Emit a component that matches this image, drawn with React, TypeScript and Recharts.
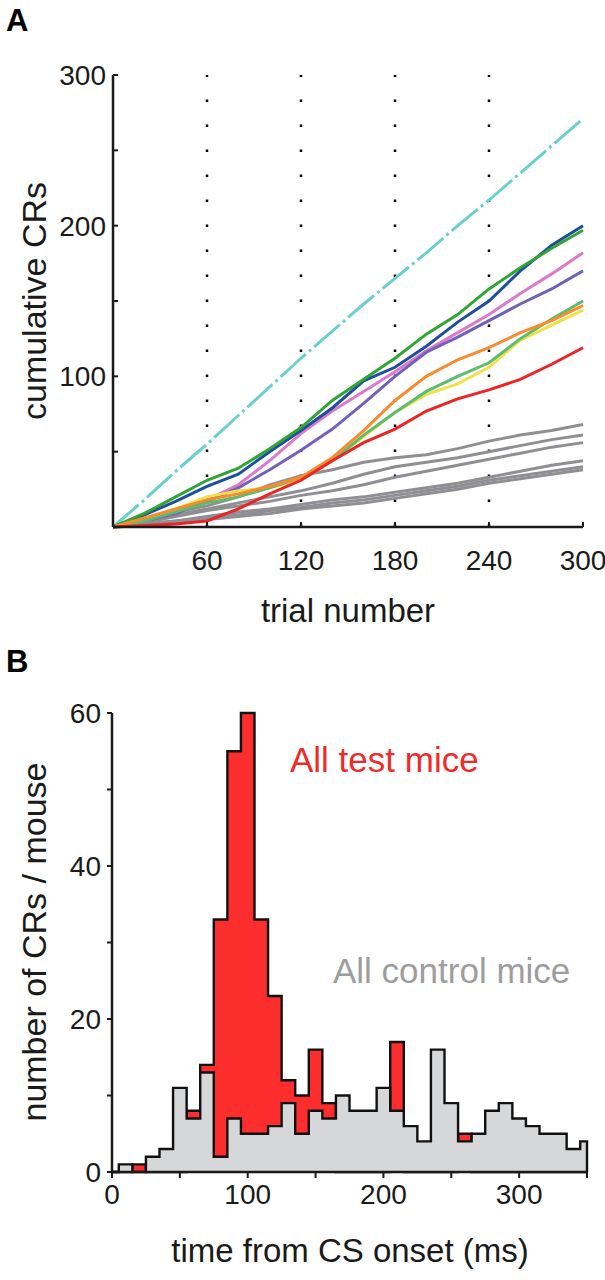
import React from 'react';
import { LineChart, Line, AreaChart, Area, XAxis, YAxis, ReferenceLine } from 'recharts';

// panel A: cumulative CRs, sampled every 20 trials
const TRIALS = [0, 20, 40, 60, 80, 100, 120, 140, 160, 180, 200, 220, 240, 260, 280, 300];
const CYAN = [0, 18, 37, 55, 74, 93, 112, 130, 148, 165, 182, 200, 217, 235, 253, 271];
const BLUE = [0, 8, 17, 27, 35, 50, 64, 79, 97, 106, 120, 136, 150, 170, 187, 200];
const GREEN = [0, 9, 20, 31, 39, 52, 66, 84, 98, 112, 128, 141, 158, 172, 185, 197];
const PINK = [0, 5, 10, 18, 28, 44, 62, 77, 90, 103, 117, 129, 141, 155, 168, 182];
const PURPLE = [0, 4, 9, 17, 26, 38, 51, 65, 82, 100, 116, 126, 137, 148, 158, 170];
const LTGREEN = [0, 4, 10, 16, 20, 26, 33, 44, 61, 76, 90, 100, 109, 125, 138, 150];
const ORANGE = [0, 6, 12, 18, 22, 27, 33, 46, 64, 84, 100, 111, 119, 129, 137, 147];
const YELLOW = [0, 5, 12, 20, 24, 26, 31, 44, 60, 76, 88, 95, 106, 124, 134, 144];
const RED = [0, 1, 2, 4, 12, 22, 31, 44, 56, 65, 77, 85, 91, 98, 108, 119];
const GREY1 = [0, 5, 10, 14, 20, 28, 34, 38, 43, 46, 48, 52, 57, 61, 64, 68];
const GREY2 = [0, 4, 8, 12, 16, 20, 24, 29, 35, 40, 43, 46, 50, 54, 58, 61];
const GREY3 = [0, 3, 7, 11, 14, 17, 21, 24, 28, 33, 37, 41, 45, 49, 53, 56];
const GREY4 = [0, 2, 4, 7, 10, 12, 15, 18, 20, 23, 26, 29, 33, 37, 41, 44];
const GREY5 = [0, 2, 4, 6, 8, 11, 13, 16, 18, 21, 24, 27, 31, 34, 37, 40];
const GREY6 = [0, 1, 3, 5, 7, 9, 12, 14, 16, 19, 22, 25, 29, 32, 35, 38];

const TRIAL_TICKS = [0, 60, 120, 180, 240, 300];
const DOTTED_X = [60, 120, 180, 240];
const CR_TICKS = [0, 50, 100, 150, 200, 250, 300];

// panel B: 10 ms bins
const BIN_CENTERS = [10, 20, 30, 40, 50, 60, 70, 80, 90, 100, 110, 120, 130, 140, 150, 160, 170, 180,
  190, 200, 210, 220, 230, 240, 250, 260, 270, 280, 290, 300, 310, 320, 330, 340, 350];
const CONTROL = [1, 0, 2, 3, 11, 7, 13, 2, 7, 5, 5, 6, 9, 5, 8, 7, 10, 8,
  8, 11, 8, 6, 4, 16, 9, 4, 5, 8, 9, 7, 6, 5, 5, 3, 4];
const TEST = [0, 1, 0, 0, 0, 8, 14, 33, 55, 60, 33, 23, 12, 10, 16, 9, 0, 0,
  0, 0, 17, 0, 0, 0, 0, 5, 0, 0, 0, 0, 0, 0, 0, 0, 0];
const TIME_TICKS = [0, 50, 100, 150, 200, 250, 300, 350];
const COUNT_TICKS = [0, 10, 20, 30, 40, 50, 60];

const FONT = "'Liberation Sans', Arial, Helvetica, sans-serif";
const INK = '#1a1a1a';

const SERIES = [
  { key: 'g1', values: GREY1, color: '#8f8f93' },
  { key: 'g2', values: GREY2, color: '#8f8f93' },
  { key: 'g3', values: GREY3, color: '#8f8f93' },
  { key: 'g4', values: GREY4, color: '#8f8f93' },
  { key: 'g5', values: GREY5, color: '#8f8f93' },
  { key: 'g6', values: GREY6, color: '#8f8f93' },
  { key: 'cyan', values: CYAN, color: '#6acfd0', dash: '34 4 3 4' },
  { key: 'pink', values: PINK, color: '#dc79c8' },
  { key: 'purple', values: PURPLE, color: '#6f62bd' },
  { key: 'blue', values: BLUE, color: '#1f4e9e' },
  { key: 'green', values: GREEN, color: '#2fa532' },
  { key: 'yellow', values: YELLOW, color: '#efe14a' },
  { key: 'ltgreen', values: LTGREEN, color: '#5dbd6e' },
  { key: 'orange', values: ORANGE, color: '#fb8a2c' },
  { key: 'red', values: RED, color: '#ec2424' },
];

const lineData = TRIALS.map((t, i) => {
  const row: Record<string, number> = { trial: t };
  SERIES.forEach((s) => { row[s.key] = s.values[i]; });
  return row;
});

// step rows at bin edges (clipped to 0..350)
const histData = [
  { edge: 0, control: 0, test: 0 },
  ...BIN_CENTERS.map((c, i) => ({ edge: c - 5, control: CONTROL[i], test: TEST[i] })),
  { edge: 350, control: 0, test: 0 },
];

// inward ticks for panel A
const InTickY = (props: any) => {
  const { x, y, payload } = props;
  const v = payload.value;
  return (
    <g>
      <line x1={x} x2={x + 5} y1={y} y2={y} stroke={INK} strokeWidth={2} />
      {v > 0 && v % 100 === 0 && (
        <text x={x - 7} y={y} dy={10} textAnchor="end" fontSize={28} fontFamily={FONT} fill={INK}>{v}</text>
      )}
    </g>
  );
};

const InTickX = (props: any) => {
  const { x, y, payload } = props;
  const v = payload.value;
  return (
    <g>
      <line x1={x} x2={x} y1={y} y2={y - 5} stroke={INK} strokeWidth={2} />
      {v > 0 && (
        <text x={x} y={y} dy={43} textAnchor="middle" fontSize={28} fontFamily={FONT} fill={INK}>{v}</text>
      )}
    </g>
  );
};

export default function App() {
  return (
    <div style={{ position: 'absolute', left: 0, top: 0, width: 605, height: 1280, background: '#fff' }}>
      <div style={{ position: 'absolute', left: 0, top: 0 }}>
        <LineChart width={605} height={640} data={lineData} margin={{ top: 75, right: 22, bottom: 0, left: 0 }}>
          <XAxis
            dataKey="trial"
            type="number"
            domain={[0, 300]}
            ticks={TRIAL_TICKS}
            height={113}
            tickSize={0}
            tickMargin={0}
            tickLine={false}
            axisLine={{ stroke: INK, strokeWidth: 2.5 }}
            tick={<InTickX />}
          />
          <YAxis
            type="number"
            domain={[0, 300]}
            ticks={CR_TICKS}
            width={113}
            tickSize={0}
            tickMargin={0}
            tickLine={false}
            axisLine={{ stroke: INK, strokeWidth: 2.5 }}
            tick={<InTickY />}
          />
          {DOTTED_X.map((x) => (
            <ReferenceLine key={x} x={x} stroke="#000" strokeWidth={2.5} strokeDasharray="2.5 22.5" />
          ))}
          {SERIES.map((s) => (
            <Line
              key={s.key}
              dataKey={s.key}
              type="linear"
              stroke={s.color}
              strokeWidth={3}
              strokeDasharray={s.dash}
              dot={false}
              isAnimationActive={false}
            />
          ))}
        </LineChart>
      </div>

      <div style={{ position: 'absolute', left: 0, top: 640 }}>
        <AreaChart width={605} height={640} data={histData} margin={{ top: 73, right: 18, bottom: 0, left: 0 }}>
          <XAxis
            dataKey="edge"
            type="number"
            domain={[0, 350]}
            ticks={TIME_TICKS}
            height={108}
            tickSize={6}
            tickMargin={6}
            tickLine={{ stroke: INK, strokeWidth: 2 }}
            axisLine={{ stroke: INK, strokeWidth: 2.5 }}
            tick={{ fontSize: 28, fontFamily: FONT, fill: INK }}
            tickFormatter={(v: number) => (v % 100 === 0 ? String(v) : '')}
          />
          <YAxis
            type="number"
            domain={[0, 60]}
            ticks={COUNT_TICKS}
            width={112}
            tickSize={5}
            tickMargin={6}
            tickLine={{ stroke: INK, strokeWidth: 2 }}
            axisLine={{ stroke: INK, strokeWidth: 2.5 }}
            tick={{ fontSize: 28, fontFamily: FONT, fill: INK }}
            tickFormatter={(v: number) => (v % 20 === 0 ? String(v) : '')}
          />
          <Area
            dataKey="test"
            type="stepAfter"
            fill="#fc2d2d"
            fillOpacity={1}
            stroke="#111"
            strokeWidth={2.4}
            isAnimationActive={false}
          />
          <Area
            dataKey="control"
            type="stepAfter"
            fill="#d6d7d9"
            fillOpacity={1}
            stroke="#111"
            strokeWidth={2.4}
            isAnimationActive={false}
          />
        </AreaChart>
      </div>

      <svg width={605} height={1280} style={{ position: 'absolute', left: 0, top: 0, pointerEvents: 'none' }}>
        <g fontFamily={FONT}>
          <text x={6} y={31} fontSize={31} fontWeight="bold" fill="#000">A</text>
          <text x={6} y={672} fontSize={31} fontWeight="bold" fill="#000">B</text>
          <text x={348} y={622} fontSize={33} textAnchor="middle" fill={INK}>trial number</text>
          <text transform="rotate(-90 46 301)" x={46} y={301} fontSize={34} textAnchor="middle" fill={INK}>cumulative CRs</text>
          <text transform="rotate(-90 46 942)" x={46} y={942} fontSize={34} textAnchor="middle" fill={INK}>number of CRs / mouse</text>
          <text x={350} y={1262} fontSize={33} textAnchor="middle" fill={INK}>time from CS onset (ms)</text>
          <text x={290} y={772} fontSize={35} fill="#ee2a2a">All test mice</text>
          <text x={333} y={983} fontSize={35} fill="#9d9d9d">All control mice</text>
        </g>
      </svg>
    </div>
  );
}
